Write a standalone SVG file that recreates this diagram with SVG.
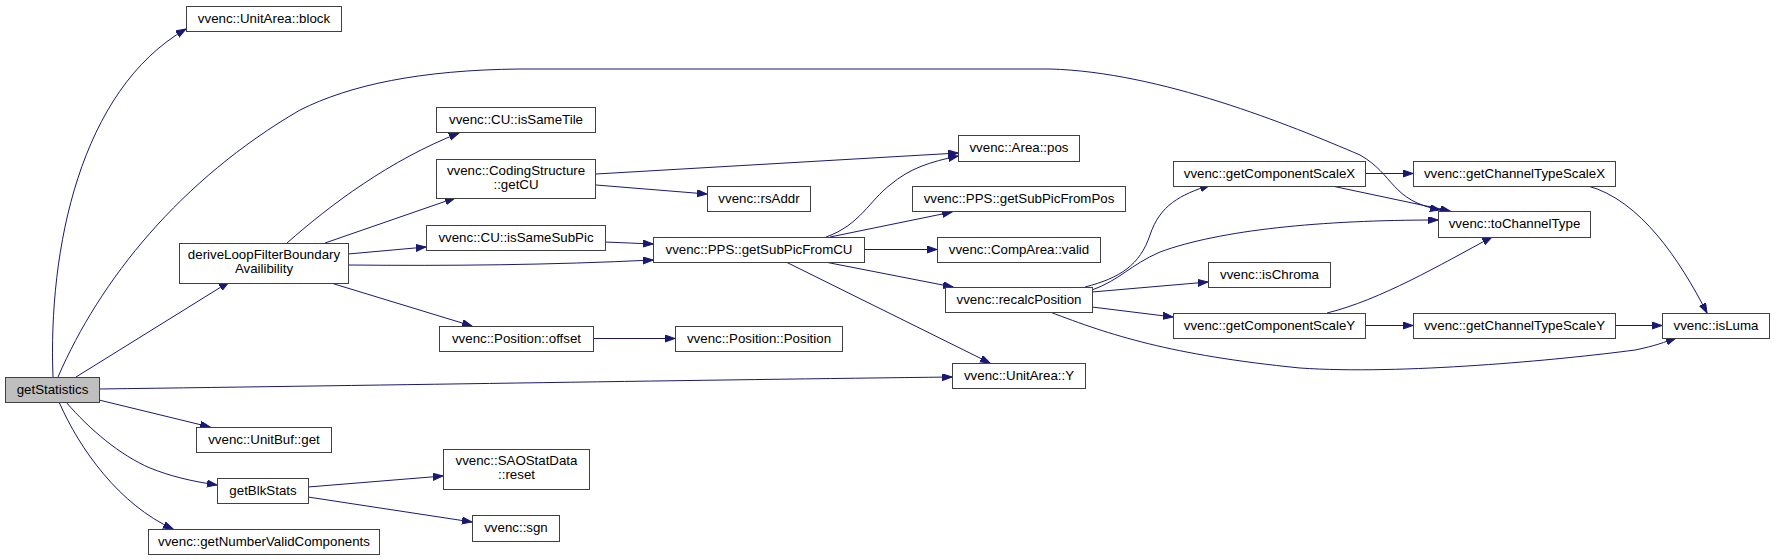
<svg xmlns="http://www.w3.org/2000/svg" width="1775" height="560" viewBox="0 0 1775 560">
<style>
.n rect{fill:#ffffff;stroke:#404040;stroke-width:1}
.n.g rect{fill:#bfbfbf}
.n text{font-family:"Liberation Sans",Arial,sans-serif;font-size:13.3px;fill:#000;text-anchor:middle}
.e path{fill:none;stroke:#191970;stroke-width:1;marker-end:url(#ah)}
</style>
<defs>
<marker id="ah" markerUnits="userSpaceOnUse" markerWidth="11" markerHeight="8" refX="10" refY="3.5" orient="auto">
<path d="M0,0 L10,3.5 L0,7 z" fill="#191970" stroke="#191970" stroke-width="1"/>
</marker>
</defs>
<rect width="1775" height="560" fill="#ffffff"/>
<g id="edges" class="e">
<path d="M53,377 C 48,250 80,90 186,29"/>
<path d="M58,377 C 100,280 180,180 300,110 C 350,85 420,70 520,69 L 1050,69 C 1160,72 1290,125 1360,155 C 1395,175 1390,200 1440,210"/>
<path d="M76,377 L 229,282"/>
<path d="M99,389 C 400,385 700,380 952,377"/>
<path d="M99,400 L 210,427"/>
<path d="M66,402 C 90,430 120,455 150,468 C 170,476 190,481 217,485"/>
<path d="M59,402 C 80,450 120,505 173,529"/>
<path d="M287,243 C 330,205 390,160 459,133"/>
<path d="M325,243 L 455,198"/>
<path d="M348,254 L 426,247"/>
<path d="M348,265 C 450,266 550,265 653,260"/>
<path d="M331,283 L 472,326"/>
<path d="M596,174 L 958,153"/>
<path d="M596,185 L 707,194"/>
<path d="M605,242 L 653,244"/>
<path d="M826,237 C 860,225 870,200 890,185 C 910,168 930,162 958,156"/>
<path d="M830,237 L 952,212"/>
<path d="M864,249.5 L 937,249.5"/>
<path d="M825,262 L 953,287"/>
<path d="M786,262 L 990,363"/>
<path d="M593,338.5 L 675,338.5"/>
<path d="M1085,287 C 1120,278 1140,265 1150,235 C 1160,205 1180,195 1210,185"/>
<path d="M1092,290 C 1120,280 1130,265 1160,252 C 1220,230 1320,220 1438,220"/>
<path d="M1092,292 L 1208,282"/>
<path d="M1092,307 L 1173,317"/>
<path d="M1050,312 C 1110,335 1170,355 1300,368 C 1400,375 1560,360 1635,350 C 1655,346 1665,342 1676,338"/>
<path d="M1365,173.5 L 1413,173.5"/>
<path d="M1332,186 L 1450,211"/>
<path d="M1327,313 C 1380,300 1440,265 1492,237"/>
<path d="M1365,325.5 L 1413,325.5"/>
<path d="M1615,325.5 L 1662,325.5"/>
<path d="M1588,186 C 1640,200 1680,260 1707,313"/>
<path d="M308,487 L 443,476"/>
<path d="M308,497 L 472,522"/>
</g>
<g id="getStatistics" class="n g"><rect x="5.5" y="377.5" width="94" height="25"/><text x="52.5" y="394">getStatistics</text></g>
<g id="block" class="n"><rect x="186.5" y="6.5" width="155" height="25"/><text x="264" y="23">vvenc::UnitArea::block</text></g>
<g id="deriveLoop" class="n"><rect x="179.5" y="243.5" width="169" height="40"/><text x="264" y="259">deriveLoopFilterBoundary</text><text x="264" y="273">Availibility</text></g>
<g id="unitbufget" class="n"><rect x="196.5" y="427.5" width="135" height="25"/><text x="264" y="444">vvenc::UnitBuf::get</text></g>
<g id="getBlkStats" class="n"><rect x="217.5" y="478.5" width="91" height="25"/><text x="263" y="495">getBlkStats</text></g>
<g id="getNumberValidComponents" class="n"><rect x="148.5" y="529.5" width="231" height="25"/><text x="264" y="546">vvenc::getNumberValidComponents</text></g>
<g id="isSameTile" class="n"><rect x="436.5" y="107.5" width="159" height="25"/><text x="516" y="124">vvenc::CU::isSameTile</text></g>
<g id="getCU" class="n"><rect x="436.5" y="159.5" width="159" height="39"/><text x="516" y="175">vvenc::CodingStructure</text><text x="516" y="189">::getCU</text></g>
<g id="rsAddr" class="n"><rect x="707.5" y="186.5" width="103" height="25"/><text x="759" y="203">vvenc::rsAddr</text></g>
<g id="isSameSubPic" class="n"><rect x="426.5" y="225.5" width="179" height="25"/><text x="516" y="242">vvenc::CU::isSameSubPic</text></g>
<g id="getSubPicFromCU" class="n"><rect x="653.5" y="237.5" width="211" height="25"/><text x="759" y="254">vvenc::PPS::getSubPicFromCU</text></g>
<g id="offset" class="n"><rect x="439.5" y="326.5" width="154" height="25"/><text x="516.5" y="343">vvenc::Position::offset</text></g>
<g id="Position" class="n"><rect x="675.5" y="326.5" width="167" height="25"/><text x="759" y="343">vvenc::Position::Position</text></g>
<g id="saoreset" class="n"><rect x="443.5" y="449.5" width="146" height="40"/><text x="516.5" y="465">vvenc::SAOStatData</text><text x="516.5" y="479">::reset</text></g>
<g id="sgn" class="n"><rect x="472.5" y="515.5" width="87" height="26"/><text x="516" y="532">vvenc::sgn</text></g>
<g id="areapos" class="n"><rect x="958.5" y="135.5" width="121" height="26"/><text x="1019" y="152">vvenc::Area::pos</text></g>
<g id="getSubPicFromPos" class="n"><rect x="912.5" y="186.5" width="213" height="25"/><text x="1019" y="203">vvenc::PPS::getSubPicFromPos</text></g>
<g id="compareavalid" class="n"><rect x="937.5" y="237.5" width="163" height="25"/><text x="1019" y="254">vvenc::CompArea::valid</text></g>
<g id="recalcPosition" class="n"><rect x="945.5" y="287.5" width="147" height="25"/><text x="1019" y="304">vvenc::recalcPosition</text></g>
<g id="unitareaY" class="n"><rect x="952.5" y="363.5" width="133" height="25"/><text x="1019" y="380">vvenc::UnitArea::Y</text></g>
<g id="getComponentScaleX" class="n"><rect x="1173.5" y="161.5" width="192" height="25"/><text x="1269.5" y="178">vvenc::getComponentScaleX</text></g>
<g id="isChroma" class="n"><rect x="1208.5" y="262.5" width="122" height="25"/><text x="1269.5" y="279">vvenc::isChroma</text></g>
<g id="getComponentScaleY" class="n"><rect x="1173.5" y="313.5" width="192" height="25"/><text x="1269.5" y="330">vvenc::getComponentScaleY</text></g>
<g id="getChannelTypeScaleX" class="n"><rect x="1413.5" y="161.5" width="202" height="25"/><text x="1514.5" y="178">vvenc::getChannelTypeScaleX</text></g>
<g id="toChannelType" class="n"><rect x="1438.5" y="211.5" width="152" height="26"/><text x="1514.5" y="228">vvenc::toChannelType</text></g>
<g id="getChannelTypeScaleY" class="n"><rect x="1413.5" y="313.5" width="202" height="25"/><text x="1514.5" y="330">vvenc::getChannelTypeScaleY</text></g>
<g id="isLuma" class="n"><rect x="1662.5" y="313.5" width="107" height="25"/><text x="1716" y="330">vvenc::isLuma</text></g>
</svg>
